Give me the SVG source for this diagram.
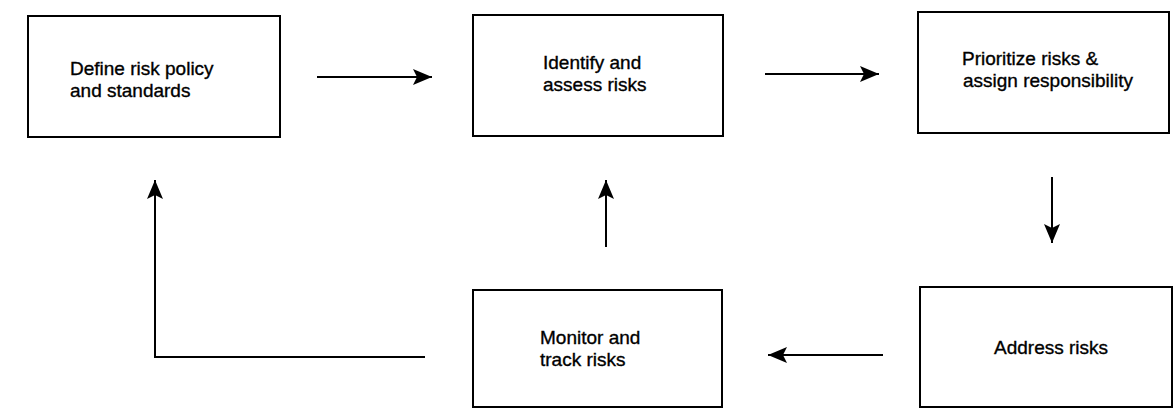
<svg xmlns="http://www.w3.org/2000/svg" width="1173" height="408" viewBox="0 0 1173 408">
<style>
.box{fill:#fff;stroke:#000;stroke-width:2}
.lbl{font-family:"Liberation Sans",Arial,Helvetica,sans-serif;font-size:19px;fill:#000;stroke:#000;stroke-width:0.35}
.conn{fill:none;stroke:#000;stroke-width:2}
</style>
<defs>
<marker id="ah" markerUnits="userSpaceOnUse" markerWidth="20" markerHeight="18" refX="19" refY="8" orient="auto">
<path d="M0,0 L19,8 L0,16 L4,8 z" fill="#000"/>
</marker>
</defs>
<rect width="1173" height="408" fill="#fff"/>
<g id="n1">
<rect class="box" x="28" y="16" width="252" height="121"/>
<text class="lbl" x="70" y="75">Define risk policy</text>
<text class="lbl" x="70" y="97">and standards</text>
</g>
<g id="n2">
<rect class="box" x="473" y="15" width="250" height="121"/>
<text class="lbl" x="543" y="69">Identify and</text>
<text class="lbl" x="543" y="91">assess risks</text>
</g>
<g id="n3">
<rect class="box" x="918" y="12" width="251" height="121"/>
<text class="lbl" x="962" y="65">Prioritize risks &amp;</text>
<text class="lbl" x="963" y="87">assign responsibility</text>
</g>
<g id="n4">
<rect class="box" x="473" y="290" width="249" height="117"/>
<text class="lbl" x="540" y="344">Monitor and</text>
<text class="lbl" x="540" y="366">track risks</text>
</g>
<g id="n5">
<rect class="box" x="920" y="287" width="252" height="120"/>
<text class="lbl" x="994" y="354">Address risks</text>
</g>
<g id="connectors">
<line class="conn" x1="317" y1="77" x2="432" y2="77" marker-end="url(#ah)"/>
<line class="conn" x1="765" y1="74" x2="879" y2="74" marker-end="url(#ah)"/>
<line class="conn" x1="1052" y1="177" x2="1052" y2="243" marker-end="url(#ah)"/>
<line class="conn" x1="883" y1="355" x2="768" y2="355" marker-end="url(#ah)"/>
<line class="conn" x1="606" y1="247" x2="606" y2="180" marker-end="url(#ah)"/>
<polyline class="conn" points="425,357 155,357 155,180" marker-end="url(#ah)"/>
</g>
</svg>
